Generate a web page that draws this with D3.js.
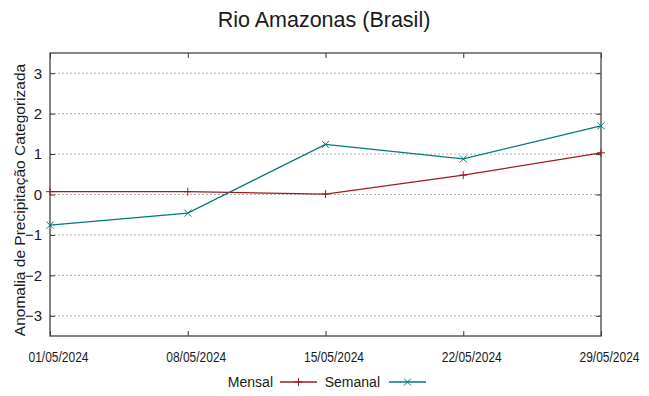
<!DOCTYPE html>
<html>
<head>
<meta charset="utf-8">
<script src="https://cdn.jsdelivr.net/npm/d3@7"></script>
<style>
  body { margin: 0; background: #fff; }
  text { font-family: "Liberation Sans", Arial, sans-serif; fill: #1a1a1a; }
</style>
</head>
<body>
<svg id="chart"></svg>
<script>
// data
const dates = ["2024-05-01", "2024-05-08", "2024-05-15", "2024-05-22", "2024-05-29"];
const mensal = [0.07, 0.07, 0.01, 0.48, 1.03];
const semanal = [-0.76, -0.46, 1.24, 0.88, 1.70];
const seriesNames = ["Mensal", "Semanal"];
const yTicks = [-3, -2, -1, 0, 1, 2, 3];
const title = "Rio Amazonas (Brasil)";
const yLabel = "Anomalia de Precipitação Categorizada";

const W = 649, H = 396;
const margin = { top: 53, right: 48, bottom: 60, left: 50 };
const width = W - margin.left - margin.right;
const height = H - margin.top - margin.bottom;

const parse = d3.timeParse("%Y-%m-%d");
const xDates = dates.map(parse);

const svg = d3.select("#chart").attr("width", W).attr("height", H);
const g = svg.append("g").attr("transform", `translate(${margin.left},${margin.top})`);

const x = d3.scaleTime().domain(d3.extent(xDates)).range([0, width]);
const y = d3.scaleLinear().domain([-3.5, 3.5]).range([height, 0]);

// squeeze text horizontally (the original uses a condensed face)
const condense = (sel, k) => sel.each(function() {
  const w = this.getComputedTextLength();
  d3.select(this).attr("textLength", w * k).attr("lengthAdjust", "spacingAndGlyphs");
});

// dotted grid on y ticks
g.append("g").selectAll("line")
  .data(yTicks)
  .join("line")
  .attr("x1", 0).attr("x2", width)
  .attr("y1", d => y(d)).attr("y2", d => y(d))
  .attr("stroke", "#b0b0b0")
  .attr("stroke-width", 1)
  .attr("stroke-dasharray", "2,2");

// axes, ticks pointing inward
const fmt = d3.timeFormat("%d/%m/%Y");
const axisStyle = sel => {
  sel.select(".domain").remove();
  sel.selectAll(".tick line").attr("stroke", "#333");
};

g.append("g")
  .call(d3.axisLeft(y).tickValues(yTicks).tickSize(-5).tickPadding(8).tickFormat(d3.format("d")))
  .call(axisStyle)
  .selectAll("text").style("font-size", "15px").attr("fill", "#1a1a1a");

g.append("g").attr("transform", `translate(${width},0)`)
  .call(d3.axisRight(y).tickValues(yTicks).tickSize(-5).tickFormat(""))
  .call(axisStyle);

g.append("g").attr("transform", `translate(0,${height})`)
  .call(d3.axisBottom(x).tickValues(xDates).tickSize(-5).tickPadding(15).tickFormat(fmt))
  .call(axisStyle)
  .selectAll("text")
  .attr("x", 8)
  .style("font-size", "15px").attr("fill", "#1a1a1a")
  .call(condense, 0.8);

g.append("g")
  .call(d3.axisTop(x).tickValues(xDates).tickSize(-5).tickFormat(""))
  .call(axisStyle);

// frame
g.append("rect")
  .attr("x", 0).attr("y", 0)
  .attr("width", width).attr("height", height)
  .attr("fill", "none")
  .attr("stroke", "#444")
  .attr("stroke-width", 1.3);

const colors = { Mensal: "#a01a1e", Semanal: "#037878" };

const line = d3.line().x((d, i) => x(xDates[i])).y(d => y(d));

const plus = (sel, s) => sel.append("path").attr("d", `M${-s},0H${s}M0,${-s}V${s}`);
const cross = (sel, s) => sel.append("path").attr("d", `M${-s},${-s}L${s},${s}M${-s},${s}L${s},${-s}`);

[[mensal, "Mensal", plus], [semanal, "Semanal", cross]].forEach(([vals, name, marker]) => {
  g.append("path")
    .datum(vals)
    .attr("fill", "none")
    .attr("stroke", colors[name])
    .attr("stroke-width", 1.3)
    .attr("d", line);
  g.append("g").selectAll("g")
    .data(vals)
    .join("g")
    .attr("transform", (d, i) => `translate(${x(xDates[i])},${y(d)})`)
    .attr("stroke", colors[name])
    .attr("stroke-width", 1)
    .each(function() { marker(d3.select(this), name === "Mensal" ? 4 : 3.5); });
});

// title
svg.append("text")
  .attr("x", 324).attr("y", 27)
  .attr("text-anchor", "middle")
  .style("font-size", "21.5px")
  .text(title);

// y label
svg.append("text")
  .attr("transform", "rotate(-90)")
  .attr("x", -200).attr("y", 25)
  .attr("text-anchor", "middle")
  .style("font-size", "15.5px")
  .text(yLabel);

// legend
const legendItems = [
  { name: seriesNames[0], textX: 273, lineX: 280, marker: plus, s: 4 },
  { name: seriesNames[1], textX: 380, lineX: 389, marker: cross, s: 3.5 }
];
const ly = 382;
legendItems.forEach(it => {
  svg.append("text")
    .attr("x", it.textX).attr("y", ly + 5)
    .attr("text-anchor", "end")
    .style("font-size", "14px")
    .text(it.name);
  svg.append("line")
    .attr("x1", it.lineX).attr("x2", it.lineX + 37)
    .attr("y1", ly).attr("y2", ly)
    .attr("stroke", colors[it.name]).attr("stroke-width", 1.3);
  const mk = svg.append("g")
    .attr("transform", `translate(${it.lineX + 18.5},${ly})`)
    .attr("stroke", colors[it.name]);
  it.marker(mk, it.s);
});
</script>
</body>
</html>
